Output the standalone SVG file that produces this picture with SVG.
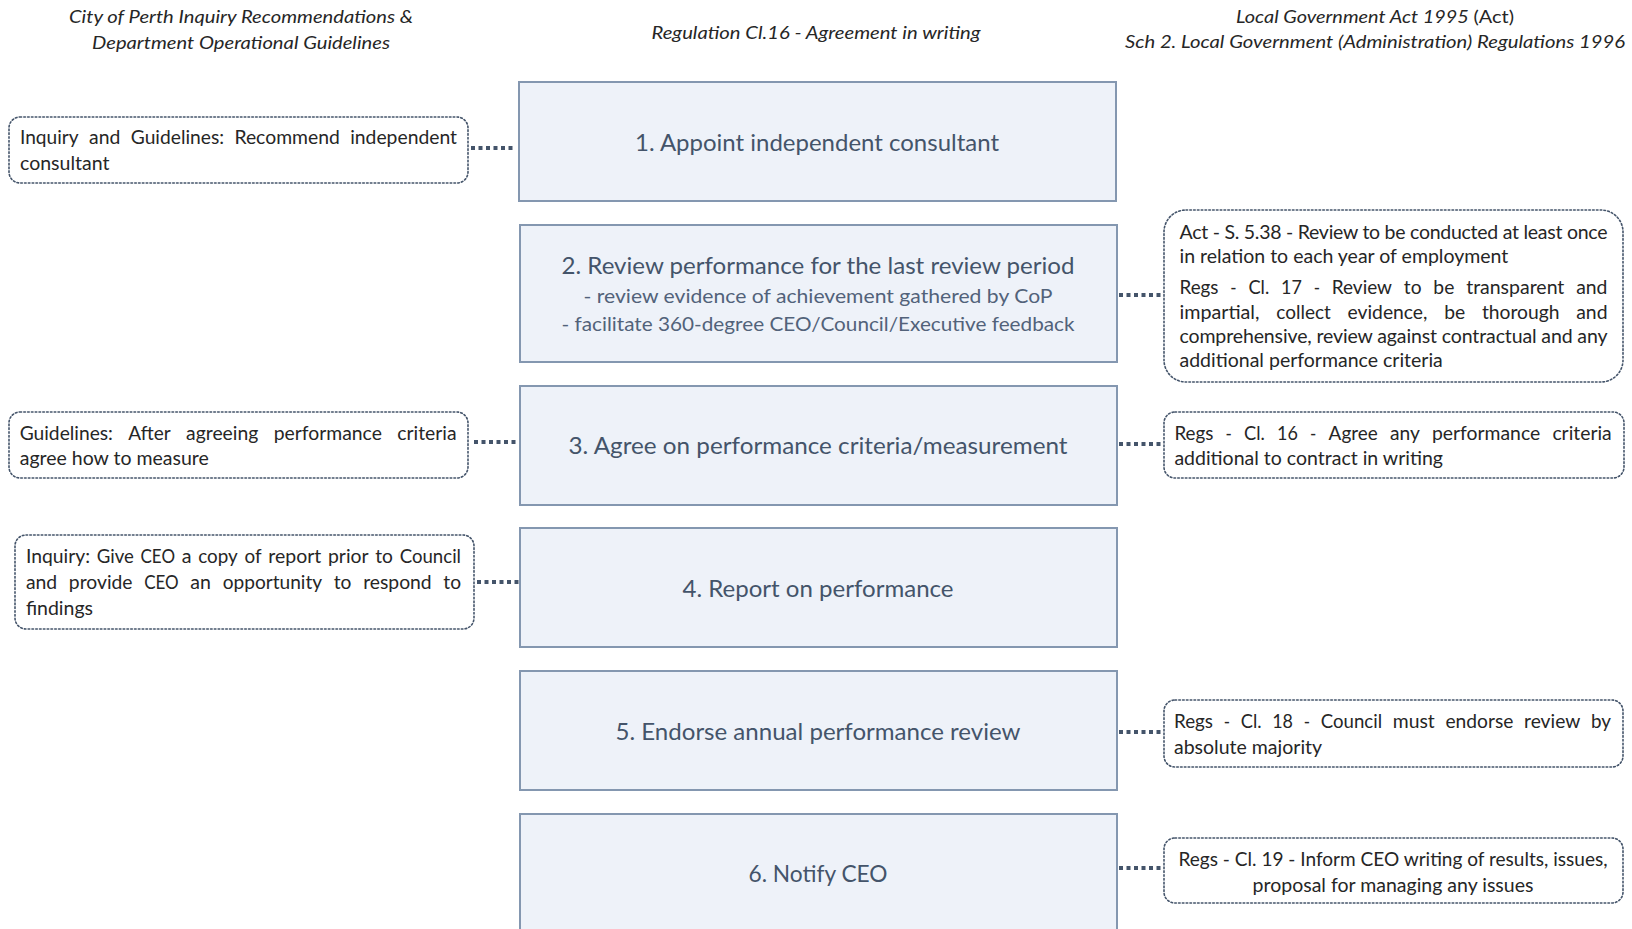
<svg xmlns="http://www.w3.org/2000/svg" width="1632" height="929" viewBox="0 0 1632 929">
<style>
.hdr{font-family:Lato,"Liberation Sans",sans-serif;font-style:italic;font-size:18px;fill:#262626;text-anchor:middle}
.box{fill:#EEF2F9;stroke:#8497B0;stroke-width:2}
.bt{font-family:Lato,"Liberation Sans",sans-serif;font-size:23.5px;fill:#44546A;text-anchor:middle}
.bs{font-family:Lato,"Liberation Sans",sans-serif;font-size:20px;fill:#52627A;text-anchor:middle}
.note{fill:#FFFFFF;stroke:#44546A;stroke-width:1.6;stroke-dasharray:1.6 2.2;stroke-linecap:round}
.nt{font-family:Lato,"Liberation Sans",sans-serif;font-size:19.5px;fill:#262626}
.ntc{font-family:Lato,"Liberation Sans",sans-serif;font-size:19.5px;fill:#262626;text-anchor:middle}
.con{stroke:#44546A;stroke-width:4;stroke-dasharray:4 3.5;fill:none}
</style>
<rect width="1632" height="929" fill="#FFFFFF"/>
<g id="headers">
<text class="hdr" x="241" y="23" textLength="344" lengthAdjust="spacingAndGlyphs">City of Perth Inquiry Recommendations &amp;</text>
<text class="hdr" x="241" y="49" textLength="298" lengthAdjust="spacingAndGlyphs">Department Operational Guidelines</text>
<text class="hdr" x="816" y="39" textLength="329" lengthAdjust="spacingAndGlyphs">Regulation Cl.16 - Agreement in writing</text>
<text class="hdr" x="1375" y="23" textLength="278" lengthAdjust="spacingAndGlyphs">Local Government Act 1995 <tspan font-style="normal">(Act)</tspan></text>
<text class="hdr" x="1375" y="48" textLength="500" lengthAdjust="spacingAndGlyphs">Sch 2. Local Government (Administration) Regulations 1996</text>
</g>
<g id="connectors">
<line class="con" x1="471" y1="148" x2="515" y2="148"/>
<line class="con" x1="474" y1="442" x2="516" y2="442"/>
<line class="con" x1="477" y1="582" x2="519" y2="582"/>
<line class="con" x1="1119" y1="295" x2="1161" y2="295"/>
<line class="con" x1="1119" y1="444" x2="1161" y2="444"/>
<line class="con" x1="1119" y1="732" x2="1161" y2="732"/>
<line class="con" x1="1119" y1="868" x2="1161" y2="868"/>
</g>
<g id="step1">
<rect class="box" x="519" y="82" width="597" height="119"/>
<text class="bt" x="817" y="151" textLength="364" lengthAdjust="spacingAndGlyphs">1. Appoint independent consultant</text>
</g>
<g id="step2">
<rect class="box" x="520" y="225" width="597" height="137"/>
<text class="bt" x="818" y="274" textLength="513" lengthAdjust="spacingAndGlyphs">2. Review performance for the last review period</text>
<text class="bs" x="818" y="303" textLength="469" lengthAdjust="spacingAndGlyphs">- review evidence of achievement gathered by CoP</text>
<text class="bs" x="818" y="331" textLength="513" lengthAdjust="spacingAndGlyphs">- facilitate 360-degree CEO/Council/Executive feedback</text>
</g>
<g id="step3">
<rect class="box" x="520" y="386" width="597" height="119"/>
<text class="bt" x="818" y="454" textLength="499" lengthAdjust="spacingAndGlyphs">3. Agree on performance criteria/measurement</text>
</g>
<g id="step4">
<rect class="box" x="520" y="528" width="597" height="119"/>
<text class="bt" x="818" y="597" textLength="271" lengthAdjust="spacingAndGlyphs">4. Report on performance</text>
</g>
<g id="step5">
<rect class="box" x="520" y="671" width="597" height="119"/>
<text class="bt" x="818" y="740" textLength="405" lengthAdjust="spacingAndGlyphs">5. Endorse annual performance review</text>
</g>
<g id="step6">
<rect class="box" x="520" y="814" width="597" height="130"/>
<text class="bt" x="818" y="882" textLength="139" lengthAdjust="spacingAndGlyphs">6. Notify CEO</text>
</g>
<g id="noteL1">
<rect class="note" x="9" y="117" width="459" height="66" rx="11"/>
<text class="nt" x="20" y="143.5" textLength="58.6" lengthAdjust="spacingAndGlyphs">Inquiry</text>
<text class="nt" x="89.05" y="143.5" textLength="31.3" lengthAdjust="spacingAndGlyphs">and</text>
<text class="nt" x="130.8" y="143.5" textLength="93.2" lengthAdjust="spacingAndGlyphs">Guidelines:</text>
<text class="nt" x="234.45" y="143.5" textLength="105.3" lengthAdjust="spacingAndGlyphs">Recommend</text>
<text class="nt" x="350.2" y="143.5" textLength="106.8" lengthAdjust="spacingAndGlyphs">independent</text>
<text class="nt" x="20" y="169.5">consultant</text>
</g>
<g id="noteL3">
<rect class="note" x="9" y="412" width="459" height="66" rx="11"/>
<text class="nt" x="19.7" y="439.5" textLength="93.2" lengthAdjust="spacingAndGlyphs">Guidelines:</text>
<text class="nt" x="128.3" y="439.5" textLength="42.4" lengthAdjust="spacingAndGlyphs">After</text>
<text class="nt" x="186.1" y="439.5" textLength="72.2" lengthAdjust="spacingAndGlyphs">agreeing</text>
<text class="nt" x="273.7" y="439.5" textLength="108.2" lengthAdjust="spacingAndGlyphs">performance</text>
<text class="nt" x="397.3" y="439.5" textLength="59.3" lengthAdjust="spacingAndGlyphs">criteria</text>
<text class="nt" x="19.7" y="464.5">agree how to measure</text>
</g>
<g id="noteL4">
<rect class="note" x="15" y="535" width="459" height="94" rx="11"/>
<text class="nt" x="25.9" y="562.5" textLength="64.1" lengthAdjust="spacingAndGlyphs">Inquiry:</text>
<text class="nt" x="96.71" y="562.5" textLength="37.1" lengthAdjust="spacingAndGlyphs">Give</text>
<text class="nt" x="140.52" y="562.5" textLength="34.5" lengthAdjust="spacingAndGlyphs">CEO</text>
<text class="nt" x="181.73" y="562.5" textLength="9.8" lengthAdjust="spacingAndGlyphs">a</text>
<text class="nt" x="198.24" y="562.5" textLength="39.5" lengthAdjust="spacingAndGlyphs">copy</text>
<text class="nt" x="244.45" y="562.5" textLength="17.1" lengthAdjust="spacingAndGlyphs">of</text>
<text class="nt" x="268.26" y="562.5" textLength="53" lengthAdjust="spacingAndGlyphs">report</text>
<text class="nt" x="327.97" y="562.5" textLength="40.6" lengthAdjust="spacingAndGlyphs">prior</text>
<text class="nt" x="375.28" y="562.5" textLength="17.7" lengthAdjust="spacingAndGlyphs">to</text>
<text class="nt" x="399.69" y="562.5" textLength="61.3" lengthAdjust="spacingAndGlyphs">Council</text>
<text class="nt" x="25.9" y="588.5" textLength="31.3" lengthAdjust="spacingAndGlyphs">and</text>
<text class="nt" x="68.86" y="588.5" textLength="63.7" lengthAdjust="spacingAndGlyphs">provide</text>
<text class="nt" x="144.22" y="588.5" textLength="34.5" lengthAdjust="spacingAndGlyphs">CEO</text>
<text class="nt" x="190.38" y="588.5" textLength="20.6" lengthAdjust="spacingAndGlyphs">an</text>
<text class="nt" x="222.64" y="588.5" textLength="99.5" lengthAdjust="spacingAndGlyphs">opportunity</text>
<text class="nt" x="333.8" y="588.5" textLength="17.7" lengthAdjust="spacingAndGlyphs">to</text>
<text class="nt" x="363.16" y="588.5" textLength="68.5" lengthAdjust="spacingAndGlyphs">respond</text>
<text class="nt" x="443.32" y="588.5" textLength="17.7" lengthAdjust="spacingAndGlyphs">to</text>
<text class="nt" x="25.9" y="614.5">findings</text>
</g>
<g id="noteR2">
<rect class="note" x="1164" y="210" width="459" height="172" rx="22"/>
<text class="nt" x="1179.5" y="238.5" textLength="428" lengthAdjust="spacing">Act - S. 5.38 - Review to be conducted at least once</text>
<text class="nt" x="1179.5" y="262.5">in relation to each year of employment</text>
<text class="nt" x="1179.5" y="293.5" textLength="39" lengthAdjust="spacingAndGlyphs">Regs</text>
<text class="nt" x="1230.32" y="293.5" textLength="6.3" lengthAdjust="spacingAndGlyphs">-</text>
<text class="nt" x="1248.44" y="293.5" textLength="20.8" lengthAdjust="spacingAndGlyphs">Cl.</text>
<text class="nt" x="1281.06" y="293.5" textLength="20.8" lengthAdjust="spacingAndGlyphs">17</text>
<text class="nt" x="1313.68" y="293.5" textLength="6.3" lengthAdjust="spacingAndGlyphs">-</text>
<text class="nt" x="1331.8" y="293.5" textLength="60.2" lengthAdjust="spacingAndGlyphs">Review</text>
<text class="nt" x="1403.82" y="293.5" textLength="17.7" lengthAdjust="spacingAndGlyphs">to</text>
<text class="nt" x="1433.34" y="293.5" textLength="21" lengthAdjust="spacingAndGlyphs">be</text>
<text class="nt" x="1466.16" y="293.5" textLength="98.2" lengthAdjust="spacingAndGlyphs">transparent</text>
<text class="nt" x="1576.18" y="293.5" textLength="31.3" lengthAdjust="spacingAndGlyphs">and</text>
<text class="nt" x="1179.5" y="318.5" textLength="80" lengthAdjust="spacingAndGlyphs">impartial,</text>
<text class="nt" x="1276.22" y="318.5" textLength="54.6" lengthAdjust="spacingAndGlyphs">collect</text>
<text class="nt" x="1347.54" y="318.5" textLength="79.9" lengthAdjust="spacingAndGlyphs">evidence,</text>
<text class="nt" x="1444.16" y="318.5" textLength="21" lengthAdjust="spacingAndGlyphs">be</text>
<text class="nt" x="1481.88" y="318.5" textLength="77.6" lengthAdjust="spacingAndGlyphs">thorough</text>
<text class="nt" x="1576.2" y="318.5" textLength="31.3" lengthAdjust="spacingAndGlyphs">and</text>
<text class="nt" x="1179.5" y="342.5" textLength="428" lengthAdjust="spacing">comprehensive, review against contractual and any</text>
<text class="nt" x="1179.5" y="366.5">additional performance criteria</text>
</g>
<g id="noteR3">
<rect class="note" x="1164" y="412" width="460" height="66" rx="11"/>
<text class="nt" x="1174.4" y="439.5" textLength="39" lengthAdjust="spacingAndGlyphs">Regs</text>
<text class="nt" x="1225.6" y="439.5" textLength="6.3" lengthAdjust="spacingAndGlyphs">-</text>
<text class="nt" x="1244.1" y="439.5" textLength="20.8" lengthAdjust="spacingAndGlyphs">Cl.</text>
<text class="nt" x="1277.1" y="439.5" textLength="20.8" lengthAdjust="spacingAndGlyphs">16</text>
<text class="nt" x="1310.1" y="439.5" textLength="6.3" lengthAdjust="spacingAndGlyphs">-</text>
<text class="nt" x="1328.6" y="439.5" textLength="49.1" lengthAdjust="spacingAndGlyphs">Agree</text>
<text class="nt" x="1389.9" y="439.5" textLength="29.9" lengthAdjust="spacingAndGlyphs">any</text>
<text class="nt" x="1432" y="439.5" textLength="108.2" lengthAdjust="spacingAndGlyphs">performance</text>
<text class="nt" x="1552.4" y="439.5" textLength="59.3" lengthAdjust="spacingAndGlyphs">criteria</text>
<text class="nt" x="1174.4" y="464.5">additional to contract in writing</text>
</g>
<g id="noteR5">
<rect class="note" x="1164" y="700" width="459" height="67" rx="11"/>
<text class="nt" x="1174" y="727.5" textLength="39" lengthAdjust="spacingAndGlyphs">Regs</text>
<text class="nt" x="1223.71" y="727.5" textLength="6.3" lengthAdjust="spacingAndGlyphs">-</text>
<text class="nt" x="1240.72" y="727.5" textLength="20.8" lengthAdjust="spacingAndGlyphs">Cl.</text>
<text class="nt" x="1272.23" y="727.5" textLength="20.8" lengthAdjust="spacingAndGlyphs">18</text>
<text class="nt" x="1303.74" y="727.5" textLength="6.3" lengthAdjust="spacingAndGlyphs">-</text>
<text class="nt" x="1320.75" y="727.5" textLength="61.3" lengthAdjust="spacingAndGlyphs">Council</text>
<text class="nt" x="1392.76" y="727.5" textLength="42" lengthAdjust="spacingAndGlyphs">must</text>
<text class="nt" x="1445.47" y="727.5" textLength="67.9" lengthAdjust="spacingAndGlyphs">endorse</text>
<text class="nt" x="1524.08" y="727.5" textLength="56.2" lengthAdjust="spacingAndGlyphs">review</text>
<text class="nt" x="1590.99" y="727.5" textLength="20" lengthAdjust="spacingAndGlyphs">by</text>
<text class="nt" x="1174" y="753.5">absolute majority</text>
</g>
<g id="noteR6">
<rect class="note" x="1164" y="838" width="459" height="65" rx="11"/>
<text class="ntc" x="1393" y="865.5" textLength="429" lengthAdjust="spacingAndGlyphs">Regs - Cl. 19 - Inform CEO writing of results, issues,</text>
<text class="ntc" x="1393" y="891.5">proposal for managing any issues</text>
</g>
</svg>
